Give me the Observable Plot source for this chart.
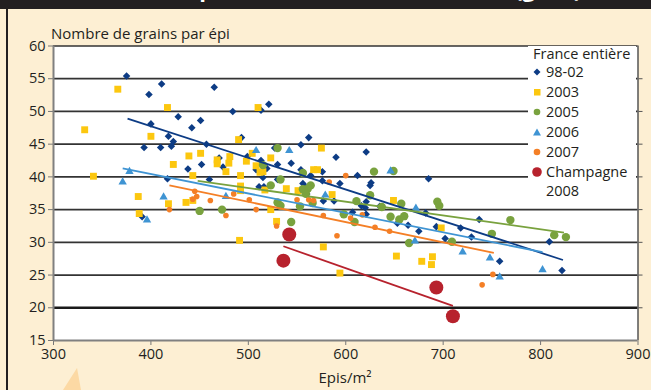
<!DOCTYPE html>
<html>
<head>
<meta charset="utf-8">
<script src="https://cdn.jsdelivr.net/npm/d3@7"></script>
<script src="https://cdn.jsdelivr.net/npm/@observablehq/plot@0.6"></script>
<style>
  html, body { margin: 0; padding: 0; background: #fdefd3; }
  #wrap { position: relative; width: 651px; height: 390px; overflow: hidden; background: #fdefd3; font-family: "Open Sans", sans-serif; color: #231f20; }
  #bar { position: absolute; left: 0; top: 0; width: 651px; height: 9px; background: #231f20; overflow: hidden; }
  #bar span { position: absolute; top: -27.5px; color: #fff; font-weight: bold; font-size: 22px; line-height: normal; white-space: nowrap; }
  #vline { position: absolute; left: 6px; top: 9px; width: 1.5px; height: 381px; background: #231f20; }
  #tri { position: absolute; left: 63px; top: 368px; width: 18px; height: 22px; background: #fcd9a4; clip-path: polygon(78% 0, 100% 100%, 0 100%); }
  #ytitle { position: absolute; left: 51px; top: 23px; font-size: 15px; white-space: nowrap; }
  #xtitle { position: absolute; left: 345px; top: 367px; transform: translateX(-50%); font-size: 15px; white-space: nowrap; }
  #legend { position: absolute; left: 528px; top: 46px; width: 108px; height: 154px; background: #fff; font-size: 14.5px; }
  #legend .row { position: absolute; left: 0; white-space: nowrap; line-height: 16px; height: 16px; }
  #legend svg { position: absolute; left: 4px; top: 3px; }
  #plot { position: absolute; left: 0; top: 0; }
</style>
</head>
<body>
<div id="wrap">
  <div id="plot"></div>
  <div id="bar"><span style="left:150px">Composantes du rendement</span><span style="left:515px">(g/m²)</span></div>
  <div id="vline"></div>
  <div id="tri"></div>
  <div id="ytitle">Nombre de grains par épi</div>
  <div id="xtitle">Epis/m²</div>
  <div id="legend"></div>
</div>
<script>
// ---- tick labels / axes
const xTicks = [300, 400, 500, 600, 700, 800, 900];
const yTicks = [15, 20, 25, 30, 35, 40, 45, 50, 55, 60];
const gridY = [25, 30, 35, 40, 45, 50, 55];
const gridYBold = [20];

// ---- series names and colours
const seriesNames = ["98-02", "2003", "2005", "2006", "2007", "Champagne 2008"];
const seriesColors = ["#0d3c85", "#fcc70f", "#79a23e", "#3f94d3", "#f47f26", "#b7222d"];
const legendTitle = "France entière";

// ---- data: [épis/m², grains par épi]
const pts9802 = [[375,55.4],[411,54.2],[398,52.6],[465,53.7],[484,50.0],[428,49.2],[400,48.1],[451,48.6],[442,47.5],[418,46.2],[423,45.4],[393,44.5],[410,44.5],[421,44.7],[493,46.0],[457,45.0],[499,43.1],[470,42.9],[474,41.5],[452,41.9],[438,41.2],[460,39.6],[417,39.7],[391,33.9],[521,51.1],[513,50.2],[562,46.0],[554,44.9],[527,44.4],[621,43.8],[590,43.0],[513,42.5],[544,42.1],[530,41.9],[519,41.3],[508,41.1],[554,41.1],[576,40.8],[612,40.2],[564,40.2],[515,39.9],[530,39.6],[576,39.4],[626,39.1],[625,38.7],[685,39.7],[556,39.0],[511,38.5],[516,38.5],[559,38.4],[560,37.4],[594,39.0],[621,36.2],[577,36.3],[635,35.5],[588,36.3],[616,35.6],[620,35.3],[607,34.6],[621,34.3],[653,32.9],[664,32.6],[675,31.7],[693,32.4],[737,33.5],[718,32.2],[702,30.6],[729,30.8],[809,30.1],[758,27.1],[822,25.7],[682,34.5]];
const pts2003 = [[366,53.4],[332,47.2],[417,50.6],[400,46.2],[341,40.1],[490,45.7],[451,43.6],[439,43.2],[423,41.9],[468,42.6],[468,42.0],[481,43.1],[480,42.1],[477,40.8],[492,40.2],[443,40.2],[504,43.6],[498,42.4],[387,37.0],[418,35.9],[436,36.1],[443,36.4],[492,38.6],[492,37.9],[388,34.4],[491,30.3],[510,50.6],[575,44.4],[523,42.9],[508,41.7],[512,40.7],[515,40.8],[567,41.1],[571,41.1],[539,38.2],[551,37.9],[586,37.3],[649,36.4],[517,38.0],[523,35.0],[529,33.2],[577,29.3],[594,25.3],[652,27.9],[678,27.1],[689,27.8],[688,26.6],[698,32.2]];
const pts2005 = [[530,44.4],[629,40.8],[649,40.9],[556,40.6],[515,41.8],[533,39.6],[523,38.7],[564,38.7],[561,38.2],[556,38.1],[559,37.4],[530,36.1],[533,35.6],[553,35.5],[566,36.0],[611,36.3],[625,37.2],[657,35.9],[637,35.4],[598,34.3],[609,33.1],[646,33.9],[655,33.5],[660,34.0],[544,33.1],[665,29.9],[694,36.2],[696,35.6],[769,33.4],[750,31.3],[814,31.1],[826,30.8],[709,30.1],[450,34.8],[473,35.0]];
const pts2006 = [[378,40.8],[371,39.2],[413,36.9],[477,37.0],[396,33.4],[508,44.0],[542,44.0],[646,40.9],[579,37.2],[672,35.2],[671,30.2],[720,28.5],[748,27.6],[758,24.7],[802,25.8]];
const pts2007 = [[445,37.8],[447,37.0],[443,36.6],[461,36.4],[485,37.4],[501,36.5],[419,35.0],[477,34.1],[600,40.2],[583,39.2],[550,36.5],[562,36.5],[567,36.4],[508,35.0],[529,32.5],[577,34.1],[605,33.7],[617,34.2],[591,31.0],[630,32.3],[645,31.7],[751,25.1],[740,23.5]];
const pts2008 = [[542,31.2],[536,27.2],[693,23.1],[710,18.7]];

// ---- trend lines: series index, start and end
const trendSeries = [0, 2, 3, 4, 5];
const trendX1 = [376, 448, 371, 419, 536];
const trendY1 = [48.9, 39.4, 41.3, 38.7, 29.4];
const trendX2 = [823, 824, 802, 752, 710];
const trendY2 = [27.3, 31.5, 28.5, 28.4, 20.3];

const toRows = (arr) => arr.map(([x, y]) => ({x, y}));
const trends = trendSeries.map((s, i) => ({x1: trendX1[i], y1: trendY1[i], x2: trendX2[i], y2: trendY2[i], c: seriesColors[s]}));

const chart = Plot.plot({
  width: 651,
  height: 390,
  marginLeft: 53,
  marginRight: 13.5,
  marginTop: 45.5,
  marginBottom: 50,
  style: {background: "transparent", fontFamily: "Open Sans, sans-serif", fontSize: "14.5px", color: "#231f20", overflow: "visible"},
  x: {domain: [300, 900], label: null},
  y: {domain: [15, 60], label: null},
  marks: [
    Plot.frame({fill: "white", stroke: "none"}),
    Plot.ruleY(gridY, {stroke: "#333", strokeWidth: 1.7}),
    Plot.ruleY(gridYBold, {stroke: "#1a1a1a", strokeWidth: 2.6}),
    Plot.ruleY([60], {stroke: "#333", strokeWidth: 1.5}),
    Plot.ruleX([900], {stroke: "#555", strokeWidth: 1.5}),
    Plot.axisY({ticks: yTicks, tickSize: 5, tickPadding: 3, stroke: "#777", fill: "#231f20"}),
    Plot.axisY({anchor: "right", ticks: yTicks.slice(1, -1), tickSize: 4, tickFormat: () => "", stroke: "#555"}),
    Plot.axisX({ticks: xTicks, tickSize: 5, tickPadding: 3, stroke: "#777", fill: "#231f20"}),
    Plot.ruleX([300], {stroke: "#808080", strokeWidth: 2}),
    Plot.ruleY([15], {stroke: "#808080", strokeWidth: 2}),
    Plot.dot(toRows(pts9802), {x: "x", y: "y", symbol: "square", rotate: 45, r: 3, fill: seriesColors[0]}),
    Plot.dot(toRows(pts2003), {x: "x", y: "y", symbol: "square", r: 3.9, fill: seriesColors[1]}),
    Plot.dot(toRows(pts2005), {x: "x", y: "y", symbol: "circle", r: 4.2, fill: seriesColors[2]}),
    Plot.dot(toRows(pts2006), {x: "x", y: "y", symbol: "triangle", r: 3.1, fill: seriesColors[3]}),
    Plot.dot(toRows(pts2007), {x: "x", y: "y", symbol: "circle", r: 2.8, fill: seriesColors[4]}),
    Plot.dot(toRows(pts2008), {x: "x", y: "y", symbol: "circle", r: 7, fill: seriesColors[5]}),
    Plot.link(trends, {x1: "x1", y1: "y1", x2: "x2", y2: "y2", stroke: "c", strokeWidth: 1.8})
  ]
});
document.getElementById("plot").appendChild(chart);

// ---- legend
const legend = document.getElementById("legend");
const symbolFor = ["diamond", "square", "circle", "triangle", "circle", "bigcircle"];
function marker(kind, color) {
  const ns = "http://www.w3.org/2000/svg";
  const svg = document.createElementNS(ns, "svg");
  svg.setAttribute("width", 10); svg.setAttribute("height", 10);
  let el;
  if (kind === "square") { el = document.createElementNS(ns, "rect"); el.setAttribute("x", 2); el.setAttribute("y", 2); el.setAttribute("width", 6.5); el.setAttribute("height", 6.5); }
  else if (kind === "diamond") { el = document.createElementNS(ns, "path"); el.setAttribute("d", "M5,1.5L8.5,5L5,8.5L1.5,5Z"); }
  else if (kind === "triangle") { el = document.createElementNS(ns, "path"); el.setAttribute("d", "M5,1.5L9,8.5L1,8.5Z"); }
  else { el = document.createElementNS(ns, "circle"); el.setAttribute("cx", 5); el.setAttribute("cy", 5); el.setAttribute("r", kind === "bigcircle" ? 4.8 : 3.3); }
  el.setAttribute("fill", color);
  svg.appendChild(el);
  return svg;
}
const title = document.createElement("div");
title.className = "row"; title.style.left = "5px"; title.style.top = "0px"; title.textContent = legendTitle;
legend.appendChild(title);
seriesNames.forEach((name, i) => {
  const parts = name === "Champagne 2008" ? ["Champagne", "2008"] : [name];
  parts.forEach((p, j) => {
    const row = document.createElement("div");
    row.className = "row";
    row.style.top = (18 + (i + j) * 19.9) + "px";
    row.style.left = "0px";
    if (j === 0) row.appendChild(marker(symbolFor[i], seriesColors[i]));
    const t = document.createElement("span");
    t.textContent = p;
    t.style.marginLeft = "18px";
    row.appendChild(t);
    legend.appendChild(row);
  });
});
</script>
</body>
</html>
